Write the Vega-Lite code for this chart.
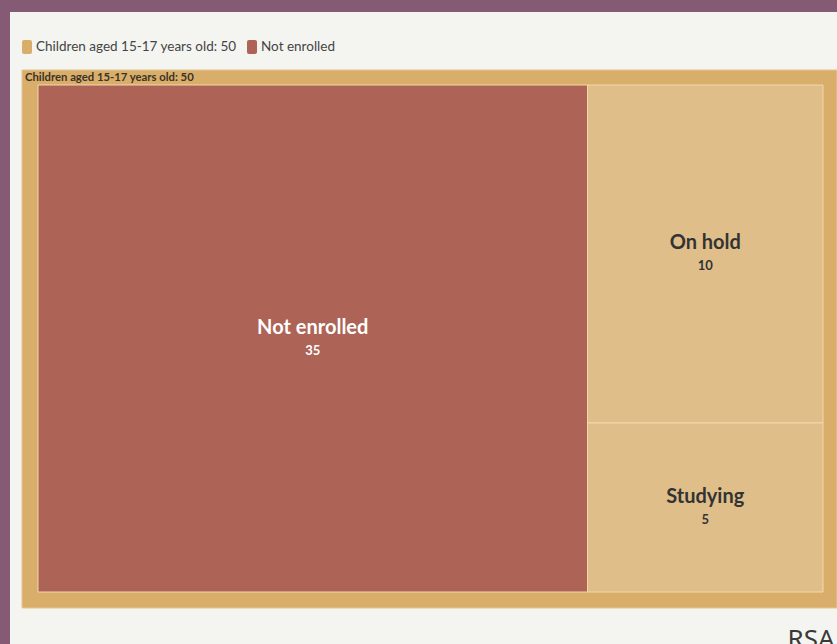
{
  "$schema": "https://vega.github.io/schema/vega-lite/v6.json",
  "autosize": {"type": "none"},
  "padding": {"left": 10, "top": 12, "right": 0, "bottom": 0},
  "width": 827,
  "height": 632,
  "background": "#845a75",
  "view": {"fill": "#f4f5f1", "stroke": null},
  "data": {
    "values": [
      {"id": "Children aged 15-17 years old", "parent": "", "value": 50},
      {"id": "Not enrolled", "parent": "Children aged 15-17 years old", "value": 35},
      {"id": "On hold", "parent": "Children aged 15-17 years old", "value": 10},
      {"id": "Studying", "parent": "Children aged 15-17 years old", "value": 5}
    ]
  },
  "transform": [
    {"calculate": "datum.parent == '' ? datum.id + ': ' + datum.value : datum.id", "as": "label"}
  ],
  "layer": [
    {
      "transform": [{"filter": "datum.parent == ''"}],
      "layer": [
        {
          "mark": {"type": "rect", "stroke": "#e6c58d", "strokeWidth": 1},
          "encoding": {
            "x": {"field": "value", "type": "quantitative", "scale": {"domain": [0, 50], "range": [12, 827]}, "axis": null},
            "x2": {"datum": 0},
            "y": {"field": "value", "type": "quantitative", "scale": {"domain": [0, 50], "range": [596, 58]}, "axis": null},
            "y2": {"datum": 0},
            "color": {
              "field": "label",
              "type": "nominal",
              "scale": {
                "domain": ["Children aged 15-17 years old: 50", "Not enrolled", "On hold", "Studying"],
                "range": ["#d9ae6b", "#ad6356", "#dfbe8a", "#dfbe8a"]
              },
              "legend": {
                "values": ["Children aged 15-17 years old: 50", "Not enrolled"],
                "orient": "none",
                "legendX": 10,
                "legendY": 28,
                "direction": "horizontal",
                "title": null,
                "padding": 0,
                "symbolType": "M-0.714,-0.714 Q-0.714,-1 -0.43,-1 L0.43,-1 Q0.714,-1 0.714,-0.714 L0.714,0.714 Q0.714,1 0.43,1 L-0.43,1 Q-0.714,1 -0.714,0.714 Z",
                "symbolSize": 196,
                "symbolStrokeWidth": 0,
                "symbolOpacity": 1,
                "labelFont": "Lato",
                "labelFontSize": 13.5,
                "labelLimit": 0,
                "labelColor": "#444444",
                "labelOffset": 2,
                "columnPadding": 8
              }
            }
          }
        },
        {
          "mark": {"type": "text", "align": "left", "baseline": "middle", "dx": 3, "dy": 8, "font": "Lato", "fontSize": 11.3, "fontWeight": "bold", "color": "#3b3226"},
          "encoding": {
            "x": {"datum": 0, "type": "quantitative"},
            "y": {"field": "value", "type": "quantitative"},
            "text": {"field": "label"}
          }
        }
      ]
    },
    {
      "transform": [
        {"filter": "datum.parent != ''"},
        {"joinaggregate": [{"op": "sum", "field": "value", "as": "total"}]},
        {"window": [{"op": "rank", "as": "rank"}], "sort": [{"field": "value", "order": "descending"}]},
        {"calculate": "datum.rank == 1 ? 'A' : 'B'", "as": "col"},
        {"joinaggregate": [{"op": "sum", "field": "value", "as": "colsum"}], "groupby": ["col"]},
        {"calculate": "datum.col == 'A' ? 0 : datum.total - datum.colsum", "as": "x0"},
        {"calculate": "datum.col == 'A' ? datum.colsum : datum.total", "as": "x1"},
        {"stack": "value", "groupby": ["col"], "sort": [{"field": "value", "order": "descending"}], "offset": "normalize", "as": ["y0", "y1"]},
        {"calculate": "(datum.x0 + datum.x1) / 2", "as": "xm"},
        {"calculate": "(datum.y0 + datum.y1) / 2", "as": "ym"}
      ],
      "layer": [
        {
          "mark": {"type": "rect", "stroke": "#f2d8aa", "strokeWidth": 1},
          "encoding": {
            "x": {"field": "x0", "type": "quantitative", "scale": {"domain": [0, 50], "range": [28, 813]},
              "axis": {"orient": "bottom", "title": "RSA", "labels": false, "ticks": false, "domain": false, "grid": false,
                "titleX": 777, "titleY": 3, "titleAlign": "left", "titleBaseline": "alphabetic",
                "titleFont": "Noto Sans", "titleFontSize": 26, "titleFontWeight": "normal", "titleColor": "#3a3a3a"}},
            "x2": {"field": "x1"},
            "y": {"field": "y0", "type": "quantitative", "scale": {"domain": [0, 1], "range": [73, 580]}, "axis": null},
            "y2": {"field": "y1"},
            "color": {"field": "label", "type": "nominal"}
          }
        },
        {
          "mark": {"type": "text", "align": "center", "baseline": "middle", "dy": -11, "font": "Lato", "fontSize": 20, "fontWeight": "bold"},
          "encoding": {
            "x": {"field": "xm", "type": "quantitative"},
            "y": {"field": "ym", "type": "quantitative"},
            "text": {"field": "id"},
            "color": {"condition": {"test": "datum.id == 'Not enrolled'", "value": "#ffffff"}, "value": "#333333"}
          }
        },
        {
          "mark": {"type": "text", "align": "center", "baseline": "middle", "dy": 12, "font": "Lato", "fontSize": 13, "fontWeight": "bold"},
          "encoding": {
            "x": {"field": "xm", "type": "quantitative"},
            "y": {"field": "ym", "type": "quantitative"},
            "text": {"field": "value"},
            "color": {"condition": {"test": "datum.id == 'Not enrolled'", "value": "#ffffff"}, "value": "#333333"}
          }
        }
      ]
    }
  ],
  "resolve": {"scale": {"x": "independent", "y": "independent"}},
  "config": {"view": {"stroke": null}}
}
